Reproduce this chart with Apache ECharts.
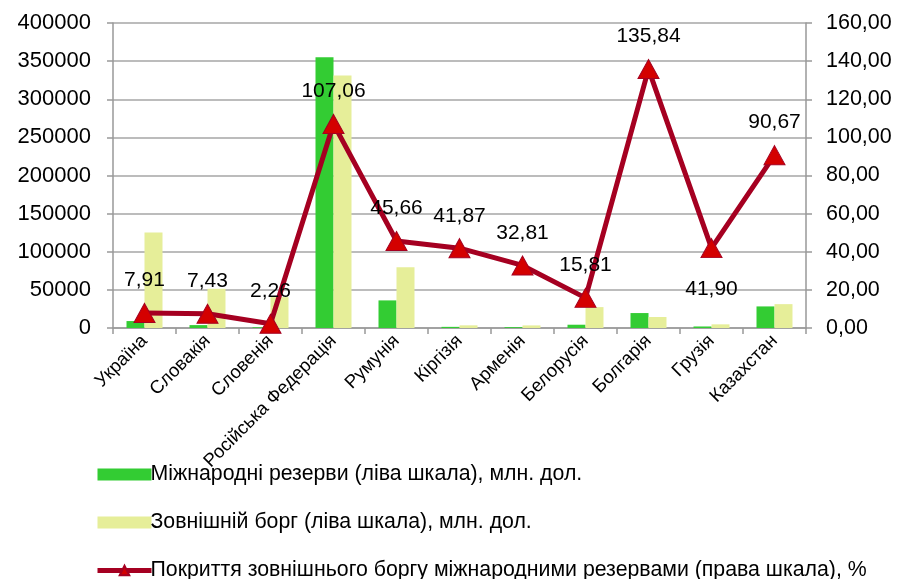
<!DOCTYPE html>
<html>
<head>
<meta charset="utf-8">
<script src="https://cdn.jsdelivr.net/npm/echarts@6/dist/echarts.min.js"></script>
<style>
  html, body { margin: 0; padding: 0; background: #fff; }
  #chart { width: 902px; height: 579px; }
</style>
</head>
<body>
<div id="chart"></div>
<script>
const countries = ["Україна", "Словакія", "Словенія", "Російська Федерація", "Румунія",
  "Кіргізія", "Арменія", "Белорусія", "Болгарія", "Грузія", "Казахстан"];
const reserves = [9100, 3800, 900, 355000, 36200, 1500, 1100, 4300, 19600, 2000, 28300];
const debt = [125300, 51400, 40500, 331200, 79600, 3500, 3400, 27400, 14400, 4800, 31300];
const coverage = [7.91, 7.43, 2.26, 107.06, 45.66, 41.87, 32.81, 15.81, 135.84, 41.90, 90.67];
const labelBelow = ["Грузія"]; // у цієї точки підпис під маркером

const seriesNames = [
  "Міжнародні резерви (ліва шкала), млн. дол.",
  "Зовнішній борг (ліва шкала), млн. дол.",
  "Покриття зовнішнього боргу міжнародними резервами (права шкала), %"
];

const font = "'Liberation Sans', Arial, sans-serif";
const comma = (v, d) => v.toFixed(d).replace(".", ",");

const chart = echarts.init(document.getElementById("chart"), null, { renderer: "canvas" });

const lineData = coverage.map((v, i) => {
  const below = labelBelow.includes(countries[i]);
  return {
    value: v,
    label: below ? { position: "bottom", distance: 21 } : undefined
  };
});

chart.setOption({
  animation: false,
  textStyle: { fontFamily: font },
  grid: { left: 113, right: 96, top: 23, bottom: 251 },
  legend: {
    orient: "vertical",
    left: 90,
    top: 459,
    height: 120,
    itemGap: 27,
    itemWidth: 54,
    itemHeight: 12,
    textStyle: { fontSize: 21.3, lineHeight: 21, color: "#000", fontFamily: font, padding: [0, 0, 0, -6] },
    data: [
      { name: seriesNames[0], icon: "rect" },
      { name: seriesNames[1], icon: "rect" },
      { name: seriesNames[2], lineStyle: { width: 5, color: "#a50021" } }
    ]
  },
  xAxis: {
    type: "category",
    data: countries,
    axisLine: { lineStyle: { color: "#999", width: 1.5 } },
    axisTick: { show: true, length: 6, lineStyle: { color: "#999", width: 1.5 } },
    axisLabel: { rotate: 45, margin: 10, interval: 0, fontSize: 18.5, color: "#000", fontFamily: font }
  },
  yAxis: [
    {
      type: "value",
      min: 0, max: 400000, interval: 50000,
      axisLine: { show: true, lineStyle: { color: "#999", width: 1.5 } },
      axisTick: { show: true, length: 6, lineStyle: { color: "#999", width: 1.5 } },
      splitLine: { lineStyle: { color: "#a6a6a6", width: 1.5 } },
      axisLabel: { margin: 22, fontSize: 22, color: "#000", fontFamily: font, formatter: v => String(v) }
    },
    {
      type: "value",
      min: 0, max: 160, interval: 20,
      axisLine: { show: true, lineStyle: { color: "#999", width: 1.5 } },
      axisTick: { show: true, length: 6, lineStyle: { color: "#999", width: 1.5 } },
      splitLine: { show: false },
      axisLabel: { margin: 20, fontSize: 21.5, color: "#000", fontFamily: font, formatter: v => comma(v, 2) }
    }
  ],
  series: [
    {
      name: seriesNames[0],
      type: "bar",
      data: reserves,
      barWidth: 18,
      barGap: "0%",
      itemStyle: { color: "#33cc33" }
    },
    {
      name: seriesNames[1],
      type: "bar",
      data: debt,
      barWidth: 18,
      itemStyle: { color: "#e6ee99" }
    },
    {
      name: seriesNames[2],
      type: "line",
      yAxisIndex: 1,
      data: lineData,
      symbol: "triangle",
      symbolSize: [21, 19],
      lineStyle: { color: "#a50021", width: 5 },
      itemStyle: { color: "#d40000", borderColor: "#a50021", borderWidth: 1 },
      label: {
        show: true,
        position: "top",
        distance: 12,
        fontSize: 21,
        color: "#000",
        fontFamily: font,
        formatter: p => comma(p.value, 2)
      },
      z: 5
    }
  ]
});
</script>
</body>
</html>
